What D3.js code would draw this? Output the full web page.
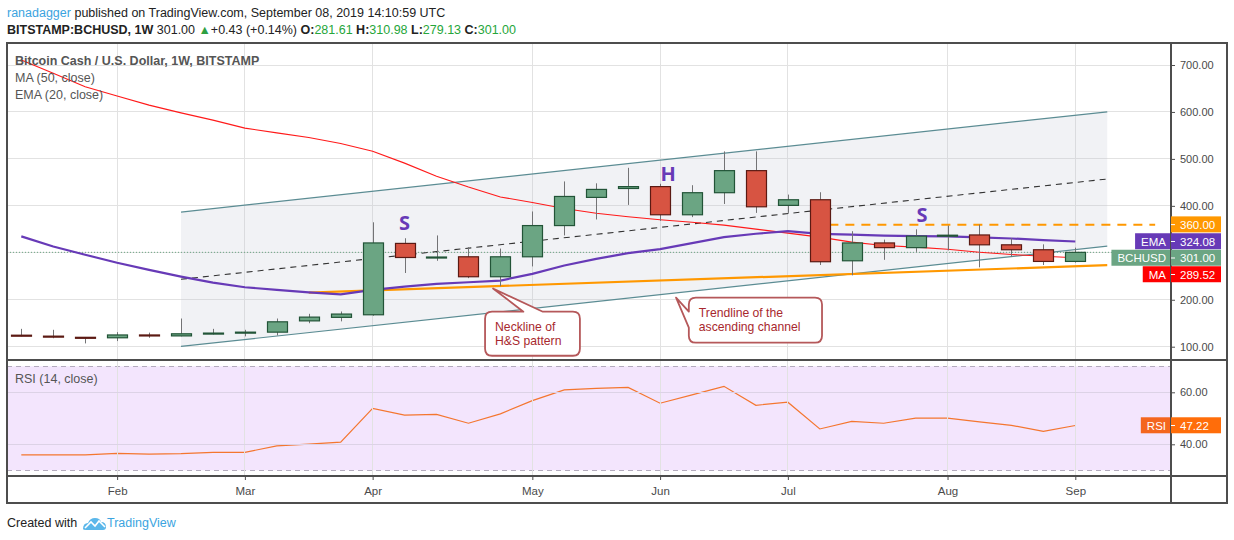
<!DOCTYPE html>
<html><head><meta charset="utf-8">
<script src="https://cdn.jsdelivr.net/npm/d3@7/dist/d3.min.js"></script>
<style>
html,body{margin:0;padding:0;background:#fff;}
svg{display:block;font-family:"Liberation Sans",Arial,sans-serif;}
</style></head><body>
<svg id="c" width="1234" height="540"></svg>
<script>
// ---------------- DATA ----------------
const weeks = ["2019-01-14","2019-01-21","2019-01-28","2019-02-04","2019-02-11","2019-02-18","2019-02-25",
  "2019-03-04","2019-03-11","2019-03-18","2019-03-25","2019-04-01","2019-04-08","2019-04-15","2019-04-22",
  "2019-04-29","2019-05-06","2019-05-13","2019-05-20","2019-05-27","2019-06-03","2019-06-10","2019-06-17",
  "2019-06-24","2019-07-01","2019-07-08","2019-07-15","2019-07-22","2019-07-29","2019-08-05","2019-08-12",
  "2019-08-19","2019-08-26","2019-09-02"];
const openP  = [124.5,122.5,120,119,125,123,127.5,129.5,131,155,162.5,168,320,289,291.5,249,291.5,358,418,437,441,381,428,475,401,413,283,321,311,336,338,317,306.5,281.61];
const highP  = [138,136,120.5,131,130,160,138,136,160,170,175,365,331,337,312,309,388,452,448,481,447,444,516,516,424,429,346,328,350,358,360,331,318,310.98];
const lowP   = [122,118,107,112,119,122,126,122,124,150,154,166,257,283,246,229,271,337,371,402,368,376,404,385,385,274,252,285,302,305,269,291,274,279.13];
const closeP = [122.5,120.5,118,125,123,127.5,129,131,153,163,169.5,321,290,291,249,291.5,358,420,435,441,381,428,475,398,413,281,321,311,335.5,337.5,317,306.5,281.61,301];
const ma50   = [710.7,682.3,653.7,633.8,614.6,598.1,582.6,565.5,555.4,545.6,532.8,516.4,491,463,440,419,407,394.3,384.4,376.9,370.5,365.2,359,350.5,342,333.4,322.7,315.6,312,307.7,301.3,296.4,292.8,289.52];
const ema20  = [334.9,313.5,295.8,278.7,263.6,249.3,236.5,226.6,221,215.9,211.6,221,228,233.8,237.3,240.9,255.2,272.9,287.2,299.2,307.7,320.5,333.4,340.6,346.2,340.5,338.5,336.5,335.5,335,333,330.5,327,324.08];
const rsi14  = [35.9,35.9,35.9,36.5,36.2,36.4,36.9,36.9,39.4,40.1,40.8,53.8,51.2,51.5,48.1,51.7,56.8,60.9,61.5,61.9,55.8,59.0,62.3,55.0,56.2,45.9,48.8,48.1,50.1,50.1,48.6,47.3,45.0,47.22];

const monthTickIdx = [3,7,11,16,20,24,29,33];
const monthLabels  = ["Feb","Mar","Apr","May","Jun","Jul","Aug","Sep"];
const priceTicks   = [100,200,300,400,500,600,700];
const rsiTicks     = [40,60];
const rsiBands     = [30,70];

// drawings (bar index, price)
const channelIdx   = [5,34];
const channelUpper = [386.7,600.3];
const channelLower = [100.6,314.1];
const necklineIdx  = [9,34];
const necklineP    = [215.3,273.6];
const resistIdx    = [25.3,35.5];
const resistP      = 360;
const patternLabels = [{t:"S",i:12.0,p:364.7},{t:"H",i:20.25,p:469.4},{t:"S",i:28.2,p:381.8}];
const callouts = [
  {lines:["Neckline of","H&S pattern"], i0:14.52,i1:17.49,pTop:174.5,pBot:80.7, side:"top", a:15.72,b:16.33, tipI:14.77,tipP:224},
  {lines:["Trendline of the","ascending channel"], i0:20.9,i1:25.07,pTop:204.6,pBot:108.5, side:"left", a:174.7,b:140.5, tipI:20.5,tipP:204.6}
];
const lastPrice = 301.00;
const priceLabels = [
  {name:"",value:360.00,color:"#ff9800"},
  {name:"EMA",value:324.08,color:"#673ab7"},
  {name:"BCHUSD",value:301.00,color:"#6ba583"},
  {name:"MA",value:289.52,color:"#ff0000"}
];
const rsiLast = 47.22;

// ---------------- LAYOUT ----------------
const svg = d3.select("#c");
const L = 7, R = 1171, RR = 1227, T = 43, MB = 360, RB = 476, B = 503;

const x = d3.scaleLinear().domain([0,33]).range([21.3,1075.3]);
const y = d3.scaleLinear().domain([100,700]).range([346.7,65]);
const yr = d3.scaleLinear().domain([40,60]).range([444.3,392.3]);

svg.append("rect").attr("width",1234).attr("height",540).attr("fill","#fff");

const defs = svg.append("defs");
defs.append("clipPath").attr("id","mainClip").append("rect").attr("x",L).attr("y",T).attr("width",R-L).attr("height",MB-T);
defs.append("clipPath").attr("id","rsiClip").append("rect").attr("x",L).attr("y",MB).attr("width",R-L).attr("height",RB-MB);

// RSI background band
const gR = svg.append("g").attr("clip-path","url(#rsiClip)");
gR.append("rect").attr("x",L).attr("width",R-L)
  .attr("y",yr(rsiBands[1])).attr("height",yr(rsiBands[0])-yr(rsiBands[1]))
  .attr("fill","#f3e5fd");

// grid lines
const grid = svg.append("g");
grid.selectAll(".vg").data(monthTickIdx).join("line")
  .attr("x1",d=>x(d)).attr("x2",d=>x(d)).attr("y1",T).attr("y2",RB)
  .attr("stroke","#e2e2e2").attr("stroke-width",1).attr("shape-rendering","crispEdges");
grid.selectAll(".hg").data(priceTicks).join("line")
  .attr("x1",L).attr("x2",R).attr("y1",d=>y(d)).attr("y2",d=>y(d))
  .attr("stroke","#e2e2e2").attr("shape-rendering","crispEdges");
grid.selectAll(".rg").data(rsiTicks).join("line")
  .attr("x1",L).attr("x2",R).attr("y1",d=>yr(d)).attr("y2",d=>yr(d))
  .attr("stroke","#dcd2e6").attr("shape-rendering","crispEdges");
gR.selectAll(".band").data(rsiBands).join("line")
  .attr("x1",L).attr("x2",R).attr("y1",d=>yr(d)).attr("y2",d=>yr(d))
  .attr("stroke","#b3abbd").attr("stroke-dasharray","5,4").attr("shape-rendering","crispEdges");

// ---------------- MAIN PANE ----------------
const g = svg.append("g").attr("clip-path","url(#mainClip)");

const chPoly = [[x(channelIdx[0]),y(channelUpper[0])],[x(channelIdx[1]),y(channelUpper[1])],
                [x(channelIdx[1]),y(channelLower[1])],[x(channelIdx[0]),y(channelLower[0])]];
g.append("path").attr("d","M"+chPoly.map(p=>p.join(",")).join("L")+"Z").attr("fill","rgba(190,197,210,0.22)");

g.append("line").attr("x1",L).attr("x2",R).attr("y1",y(lastPrice)).attr("y2",y(lastPrice))
  .attr("stroke","#6ba583").attr("stroke-width",1).attr("stroke-dasharray","1,2");

const line2 = (i,p)=>d3.line()(i.map((v,k)=>[x(v),y(p[k])]));
g.append("path").attr("d",line2(channelIdx,channelUpper)).attr("stroke","#5b8c93").attr("stroke-width",1.2).attr("fill","none");
g.append("path").attr("d",line2(channelIdx,channelLower)).attr("stroke","#5b8c93").attr("stroke-width",1.2).attr("fill","none");
g.append("path").attr("d",line2(channelIdx,[(channelUpper[0]+channelLower[0])/2,(channelUpper[1]+channelLower[1])/2]))
  .attr("stroke","#333").attr("stroke-width",1.1).attr("stroke-dasharray","6,5").attr("fill","none");

g.append("path").attr("d",line2(necklineIdx,necklineP)).attr("stroke","#ff9800").attr("stroke-width",2.2).attr("fill","none");
g.append("path").attr("d",line2(resistIdx,[resistP,resistP])).attr("stroke","#ff9800").attr("stroke-width",2).attr("stroke-dasharray","9,7").attr("fill","none");

const lineGen = d3.line().x((d,i)=>x(i)).y(d=>y(d));
g.append("path").attr("d",lineGen(ma50)).attr("stroke","#ff1a1a").attr("stroke-width",1.1).attr("fill","none");
g.append("path").attr("d",lineGen(ema20)).attr("stroke","#673ab7").attr("stroke-width",2.2).attr("fill","none");

// candles
const bw = (x(1)-x(0))*0.63;
const candles = weeks.map((w,i)=>({i,o:openP[i],h:highP[i],l:lowP[i],c:closeP[i]}));
const cg = g.append("g");
cg.selectAll(".wick").data(candles).join("line")
  .attr("x1",d=>Math.round(x(d.i))+0.5).attr("x2",d=>Math.round(x(d.i))+0.5)
  .attr("y1",d=>y(d.h)).attr("y2",d=>y(d.l)).attr("stroke","#737375").attr("stroke-width",1);
cg.selectAll(".body").data(candles).join("rect")
  .attr("x",d=>Math.round(x(d.i)-bw/2)+0.5)
  .attr("y",d=>y(Math.max(d.o,d.c)))
  .attr("width",Math.round(bw))
  .attr("height",d=>Math.max(1,Math.abs(y(d.o)-y(d.c))))
  .attr("fill",d=>d.c>=d.o?"#6ba583":"#d75442")
  .attr("stroke",d=>d.c>=d.o?"#225437":"#5b1a13").attr("stroke-width",1.2);

g.selectAll(".pl").data(patternLabels).join("text")
  .attr("x",d=>x(d.i)).attr("y",d=>y(d.p)).attr("text-anchor","middle").attr("dominant-baseline","central")
  .attr("font-family","'Open Sans','Liberation Sans',sans-serif").attr("font-weight","bold").attr("font-size",20)
  .attr("fill","#673ab7").text(d=>d.t);

// callouts
function calloutPath(c){
  const x0=x(c.i0),x1=x(c.i1),y0=y(c.pTop),y1=y(c.pBot),r=7,tx=x(c.tipI),ty=y(c.tipP);
  if(c.side==="top"){
    const a=x(c.a),b=x(c.b);
    return `M${x0+r},${y0}L${a},${y0}L${tx},${ty}L${b},${y0}L${x1-r},${y0}Q${x1},${y0} ${x1},${y0+r}L${x1},${y1-r}Q${x1},${y1} ${x1-r},${y1}L${x0+r},${y1}Q${x0},${y1} ${x0},${y1-r}L${x0},${y0+r}Q${x0},${y0} ${x0+r},${y0}Z`;
  } else {
    const a=y(c.a),b=y(c.b);
    return `M${x0+r},${y0}L${x1-r},${y0}Q${x1},${y0} ${x1},${y0+r}L${x1},${y1-r}Q${x1},${y1} ${x1-r},${y1}L${x0+r},${y1}Q${x0},${y1} ${x0},${y1-r}L${x0},${b}L${tx},${ty}L${x0},${a}L${x0},${y0+r}Q${x0},${y0} ${x0+r},${y0}Z`;
  }
}
const co = svg.append("g");
callouts.forEach(c=>{
  co.append("path").attr("d",calloutPath(c)).attr("fill","#fff").attr("stroke","#b5585a").attr("stroke-width",1.8).attr("stroke-linejoin","round");
  const x0=x(c.i0)+10, yc=(y(c.pTop)+y(c.pBot))/2;
  c.lines.forEach((ln,k)=>{
    co.append("text").attr("font-size",12.2).attr("fill","#a8282e")
      .attr("x",x0).attr("y",yc + (k-0.5)*14 + 4).text(ln);
  });
});

// ---------------- RSI PANE ----------------
gR.append("path").attr("d",d3.line().x((d,i)=>x(i)).y(d=>yr(d))(rsi14))
  .attr("stroke","#f4762f").attr("stroke-width",1.2).attr("fill","none");

// ---------------- FRAME ----------------
const fr = svg.append("g").attr("stroke","#4d4d4d").attr("stroke-width",1.4).attr("shape-rendering","crispEdges");
fr.append("rect").attr("x",L).attr("y",T).attr("width",RR-L).attr("height",B-T).attr("fill","none");
fr.append("line").attr("x1",R).attr("x2",R).attr("y1",T).attr("y2",B);
fr.append("line").attr("x1",L).attr("x2",RR).attr("y1",MB).attr("y2",MB);
fr.append("line").attr("x1",L).attr("x2",RR).attr("y1",RB).attr("y2",RB);

// price labels placement (stacked)
const lh = 16.5;
let prevBottom = -Infinity;
const placed = priceLabels.map(d=>{
  let cy = y(d.value);
  if(cy - lh/2 < prevBottom) cy = prevBottom + lh/2;
  prevBottom = cy + lh/2;
  return {...d, cy};
});
const covered = v => placed.some(p=>Math.abs(y(v)-p.cy) < lh);

// axes
const axR = d3.axisRight(y).tickValues(priceTicks.filter(v=>!covered(v))).tickFormat(d3.format(".2f")).tickSize(4).tickPadding(5);
const gax = svg.append("g").attr("transform",`translate(${R},0)`).call(axR);
gax.select(".domain").remove();
gax.selectAll("line").attr("stroke","#4d4d4d");
gax.selectAll("text").attr("font-size",11).attr("fill","#4a4a4a").attr("font-family","'Liberation Sans',Arial,sans-serif");

const axRr = d3.axisRight(yr).tickValues(rsiTicks).tickFormat(d3.format(".2f")).tickSize(4).tickPadding(5);
const gar = svg.append("g").attr("transform",`translate(${R},0)`).call(axRr);
gar.select(".domain").remove();
gar.selectAll("line").attr("stroke","#4d4d4d");
gar.selectAll("text").attr("font-size",11).attr("fill","#4a4a4a").attr("font-family","'Liberation Sans',Arial,sans-serif");

const axB = d3.axisBottom(x).tickValues(monthTickIdx).tickFormat((d,i)=>monthLabels[i]).tickSize(4).tickPadding(7);
const gab = svg.append("g").attr("transform",`translate(0,${RB})`).call(axB);
gab.select(".domain").remove();
gab.selectAll("line").attr("stroke","#4d4d4d");
gab.selectAll("text").attr("font-size",11.5).attr("fill","#4a4a4a").attr("font-family","'Liberation Sans',Arial,sans-serif");

const pl = svg.append("g").attr("font-size",11.5).attr("font-family","'Liberation Sans',Arial,sans-serif");
placed.forEach(d=>{
  pl.append("rect").attr("x",R).attr("y",d.cy-lh/2).attr("width",50).attr("height",lh-0.5).attr("fill",d.color);
  pl.append("line").attr("x1",R).attr("x2",R+4).attr("y1",d.cy).attr("y2",d.cy).attr("stroke","#fff");
  pl.append("text").attr("x",R+9).attr("y",d.cy).attr("dy","0.35em").attr("fill","#fff").text(d3.format(".2f")(d.value));
  if(d.name){
    const t = pl.append("text").attr("x",R-5).attr("y",d.cy).attr("dy","0.35em").attr("text-anchor","end").attr("fill","#fff").text(d.name);
    const w = t.node().getComputedTextLength();
    pl.insert("rect","text:last-child").attr("x",R-w-11).attr("y",d.cy-lh/2).attr("width",w+10).attr("height",lh-0.5).attr("fill",d.color);
  }
});
{
  const cy = yr(rsiLast);
  pl.append("rect").attr("x",R).attr("y",cy-lh/2).attr("width",50).attr("height",lh-0.5).attr("fill","#ff6d0a");
  pl.append("line").attr("x1",R).attr("x2",R+4).attr("y1",cy).attr("y2",cy).attr("stroke","#fff");
  pl.append("text").attr("x",R+9).attr("y",cy).attr("dy","0.35em").attr("fill","#fff").text(d3.format(".2f")(rsiLast));
  const t = pl.append("text").attr("x",R-5).attr("y",cy).attr("dy","0.35em").attr("text-anchor","end").attr("fill","#fff").text("RSI");
  const w = t.node().getComputedTextLength();
  pl.insert("rect","text:last-child").attr("x",R-w-11).attr("y",cy-lh/2).attr("width",w+10).attr("height",lh-0.5).attr("fill","#f4661e");
}

// legends
const lg = svg.append("g").attr("fill","#555").attr("font-size",12.5);
lg.append("text").attr("x",15).attr("y",65).attr("font-weight","bold").text("Bitcoin Cash / U.S. Dollar, 1W, BITSTAMP");
lg.append("text").attr("x",15).attr("y",82).text("MA (50, close)");
lg.append("text").attr("x",15).attr("y",99).text("EMA (20, close)");
lg.append("text").attr("x",15).attr("y",383).text("RSI (14, close)");

// header
const h1 = svg.append("text").attr("x",7).attr("y",17).attr("font-size",12.5).attr("fill","#222");
h1.append("tspan").attr("fill","#3ba4e0").text("ranadagger");
h1.append("tspan").text(" published on TradingView.com, September 08, 2019 14:10:59 UTC");
const h2 = svg.append("text").attr("x",7).attr("y",34).attr("font-size",12.5).attr("fill","#222");
h2.append("tspan").attr("font-weight","bold").text("BITSTAMP:BCHUSD, 1W");
h2.append("tspan").text("  301.00 ");
h2.append("tspan").attr("fill","#2ea043").text("▲");
h2.append("tspan").text("+0.43 (+0.14%) ");
[["O:","281.61"],["H:","310.98"],["L:","279.13"],["C:","301.00"]].forEach(([k,v],i)=>{
  h2.append("tspan").attr("font-weight","bold").text((i?" ":"")+k);
  h2.append("tspan").attr("fill","#26a63a").text(v);
});

// footer
const ft = svg.append("g");
ft.append("text").attr("x",7).attr("y",527).attr("font-size",12.5).attr("fill","#222").text("Created with");
const lx = 83, ly = 517;
ft.append("path").attr("transform",`translate(${lx},${ly})`)
  .attr("d","M0,12 Q0,6 5,6 Q7,1 12,1 Q17,1 18,5 Q23,5 23,10 Q23,13 20,13 L3,13 Q0,13 0,12Z")
  .attr("fill","#5bb7ea");
ft.append("path").attr("transform",`translate(${lx},${ly})`)
  .attr("d","M2,11 L8,5 L12,9 L16,4 L22,10").attr("stroke","#fff").attr("stroke-width",1.6).attr("fill","none");
ft.append("text").attr("x",107).attr("y",527).attr("font-size",12.5).attr("fill","#3ba4e0").text("TradingView");
</script>
</body></html>
